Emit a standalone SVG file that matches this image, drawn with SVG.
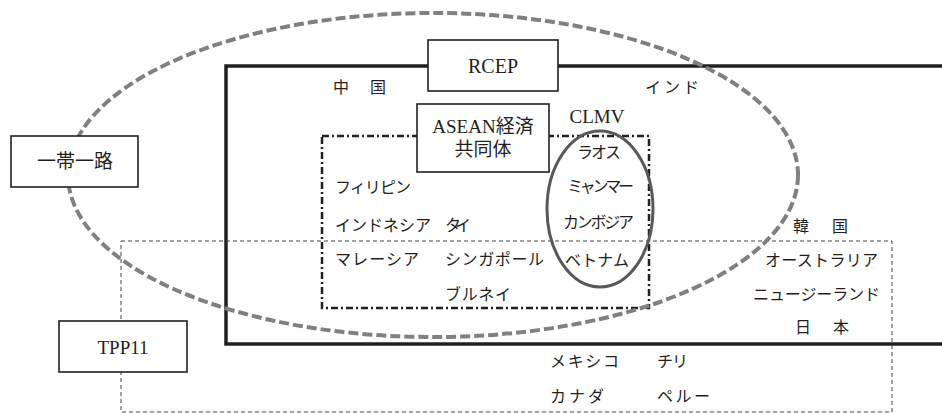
<svg xmlns="http://www.w3.org/2000/svg" width="942" height="413" viewBox="0 0 942 413">
<style>
.t{font-family:"Liberation Serif","Noto Sans CJK JP",serif;font-size:16px;fill:#231f20}
.b{font-size:19px;text-anchor:middle}
.box{fill:#fff;stroke:#231f20;stroke-width:1.6}
</style>
<rect width="942" height="413" fill="#fff"/>
<g id="connectors">
  <path id="rcep-frame" d="M950,66 H226 V344 H950" fill="none" stroke="#231f20" stroke-width="3.5"/>
  <rect id="tpp-frame" x="121" y="241" width="771" height="171" fill="none" stroke="#444" stroke-width="1" stroke-dasharray="4 3"/>
  <rect id="asean-frame" x="322" y="136" width="327" height="172" fill="none" stroke="#231f20" stroke-width="2.5" stroke-dasharray="7 3 2 3"/>
  <ellipse id="obor-ellipse" cx="433" cy="175" rx="365" ry="162" fill="none" stroke="#808080" stroke-width="4" stroke-dasharray="10 4"/>
  <ellipse id="clmv-ellipse" cx="600" cy="209" rx="53" ry="78" fill="none" stroke="#595959" stroke-width="3"/>
</g>
<g id="rcep"><rect class="box" x="428" y="40" width="130" height="51"/><text class="t b" x="493" y="73" style="font-size:20px">RCEP</text></g>
<g id="obor"><rect class="box" x="11" y="136" width="127" height="51"/><text class="t b" x="75" y="168">一帯一路</text></g>
<g id="asean"><rect class="box" x="417" y="104" width="132" height="68"/><text class="t b" x="483" y="133">ASEAN経済</text><text class="t b" x="483" y="156">共同体</text></g>
<g id="tpp11"><rect class="box" x="59" y="321" width="128" height="51"/><text class="t b" x="123" y="354">TPP11</text></g>
<g id="clmv"><text class="t b" x="597" y="123">CLMV</text></g>
<g id="labels">
  <text class="t" x="333" y="93" textLength="53" lengthAdjust="spacing">中　国</text>
  <text class="t" x="645" y="93" textLength="54" lengthAdjust="spacing">インド</text>
  <text class="t" x="577" y="158" textLength="44" lengthAdjust="spacing">ラオス</text>
  <text class="t" x="567" y="192" textLength="67" lengthAdjust="spacing">ミャンマー</text>
  <text class="t" x="563" y="228" textLength="71" lengthAdjust="spacing">カンボジア</text>
  <text class="t" x="565" y="266" textLength="64" lengthAdjust="spacing">ベトナム</text>
  <text class="t" x="335" y="193" textLength="76" lengthAdjust="spacing">フィリピン</text>
  <text class="t" x="335" y="231" textLength="96" lengthAdjust="spacing">インドネシア</text>
  <text class="t" x="445" y="231" textLength="26" lengthAdjust="spacing">タイ</text>
  <text class="t" x="335" y="265" textLength="84" lengthAdjust="spacing">マレーシア</text>
  <text class="t" x="445" y="265" textLength="99" lengthAdjust="spacing">シンガポール</text>
  <text class="t" x="445" y="300" textLength="66" lengthAdjust="spacing">ブルネイ</text>
  <text class="t" x="793" y="232" textLength="55" lengthAdjust="spacing">韓　国</text>
  <text class="t" x="765" y="266" textLength="113" lengthAdjust="spacing">オーストラリア</text>
  <text class="t" x="753" y="300" textLength="127" lengthAdjust="spacing">ニュージーランド</text>
  <text class="t" x="795" y="333" textLength="54" lengthAdjust="spacing">日　本</text>
  <text class="t" x="550" y="367" textLength="69" lengthAdjust="spacing">メキシコ</text>
  <text class="t" x="657" y="367" textLength="31" lengthAdjust="spacing">チリ</text>
  <text class="t" x="550" y="402" textLength="54" lengthAdjust="spacing">カナダ</text>
  <text class="t" x="657" y="402" textLength="53" lengthAdjust="spacing">ペルー</text>
</g>
</svg>
